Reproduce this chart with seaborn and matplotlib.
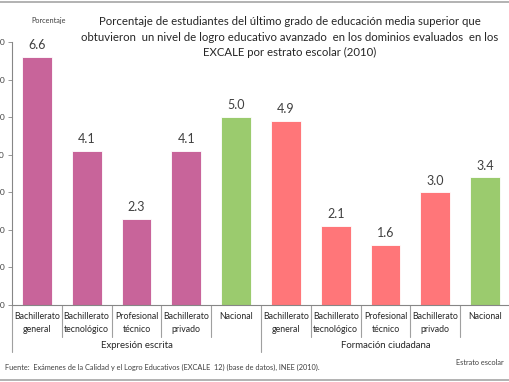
import pandas as pd
import numpy as np
import matplotlib.pyplot as plt
import seaborn as sns
from matplotlib.transforms import blended_transform_factory

grupos = ['Expresión escrita', 'Formación ciudadana']
estratos = ['Bachillerato\ngeneral', 'Bachillerato\ntecnológico', 'Profesional\ntécnico',
            'Bachillerato\nprivado', 'Nacional']
expresion = [6.6, 4.1, 2.3, 4.1, 5.0]
formacion = [4.9, 2.1, 1.6, 3.0, 3.4]
y_ticks = [0, 1, 2, 3, 4, 5, 6, 7]

titulo = ('Porcentaje de estudiantes del último grado de educación media superior que\n'
          'obtuvieron  un nivel de logro educativo avanzado  en los dominios evaluados  en los\n'
          'EXCALE por estrato escolar (2010)')
fuente = 'Fuente:  Exámenes de la Calidad y el Logro Educativos (EXCALE  12) (base de datos), INEE (2010).'

rosa, verde, salmon = '#C8649A', '#9BCB6E', '#FF7679'

filas = []
for g, vals in zip(grupos, [expresion, formacion]):
    for e, v in zip(estratos, vals):
        filas.append({'clave': g + '|' + e, 'grupo': g, 'estrato': e, 'valor': v})
df = pd.DataFrame(filas)
colores = {}
for k, g, e in zip(df['clave'], df['grupo'], df['estrato']):
    if e == 'Nacional':
        colores[k] = verde
    elif g == grupos[0]:
        colores[k] = rosa
    else:
        colores[k] = salmon

sns.set_style('white')
plt.rcParams['font.family'] = ['Lato', 'DejaVu Sans']

fig = plt.figure(figsize=(5.1, 3.82), dpi=100)
ax = fig.add_axes([0.0235, 0.2016, 0.9765, 0.6885])

sns.barplot(data=df, x='clave', y='valor', hue='clave', palette=colores, saturation=1,
            legend=False, width=0.6, edgecolor='white', linewidth=0.6, ax=ax)

ax.set_ylim(0, 7)
ax.set_xlim(-0.5, len(df) - 0.5)
ax.set_yticks(y_ticks)
ax.set_yticklabels([f'{t:.1f}' for t in y_ticks], fontsize=6, color='#404040')
ax.tick_params(axis='y', length=3, width=0.6, color='#868686', left=True, pad=2)
ax.set_xticks(range(len(df)))
ax.set_xticklabels(list(df['estrato']), fontsize=6.3, color='#262626', linespacing=1.55)
ax.tick_params(axis='x', length=0, pad=5)
ax.set_xlabel('')
ax.set_ylabel('')
for s in ['top', 'right']:
    ax.spines[s].set_visible(False)
for s in ['left', 'bottom']:
    ax.spines[s].set_color('#868686')
    ax.spines[s].set_linewidth(0.8)

for p, v in zip(ax.patches, df['valor']):
    ax.text(p.get_x() + p.get_width() / 2, v + 0.15, f'{v:.1f}', ha='center', va='bottom',
            fontsize=9, color='#404040')

tr = blended_transform_factory(ax.transData, ax.transAxes)
n = len(estratos)
for i in range(len(df) + 1):
    largo = -0.18 if i % n == 0 else -0.122
    ax.plot([i - 0.5, i - 0.5], [0, largo], transform=tr, color='#A0A0A0', lw=0.8,
            clip_on=False)
for j, g in enumerate(grupos):
    ax.text(j * n + (n - 1) / 2, -0.155, g, transform=tr, ha='center', va='center',
            fontsize=6.9, color='#262626')

fig.text(0.568, 0.958, titulo, ha='center', va='top', fontsize=8.2, color='#262626',
         linespacing=1.5)
fig.text(0.095, 0.955, 'Porcentaje', ha='center', va='top', fontsize=5.3, color='#404040')
fig.text(0.94, 0.052, 'Estrato escolar', ha='center', va='center', fontsize=5.3, color='#404040')
fig.text(0.01, 0.037, fuente, ha='left', va='center', fontsize=5.3, color='#404040')

for yy in [0.995, 0.005]:
    fig.add_artist(plt.Line2D([0, 1], [yy, yy], transform=fig.transFigure,
                              color='#A6A6A6', lw=1.2))

fig.savefig('out.png', dpi=100)
